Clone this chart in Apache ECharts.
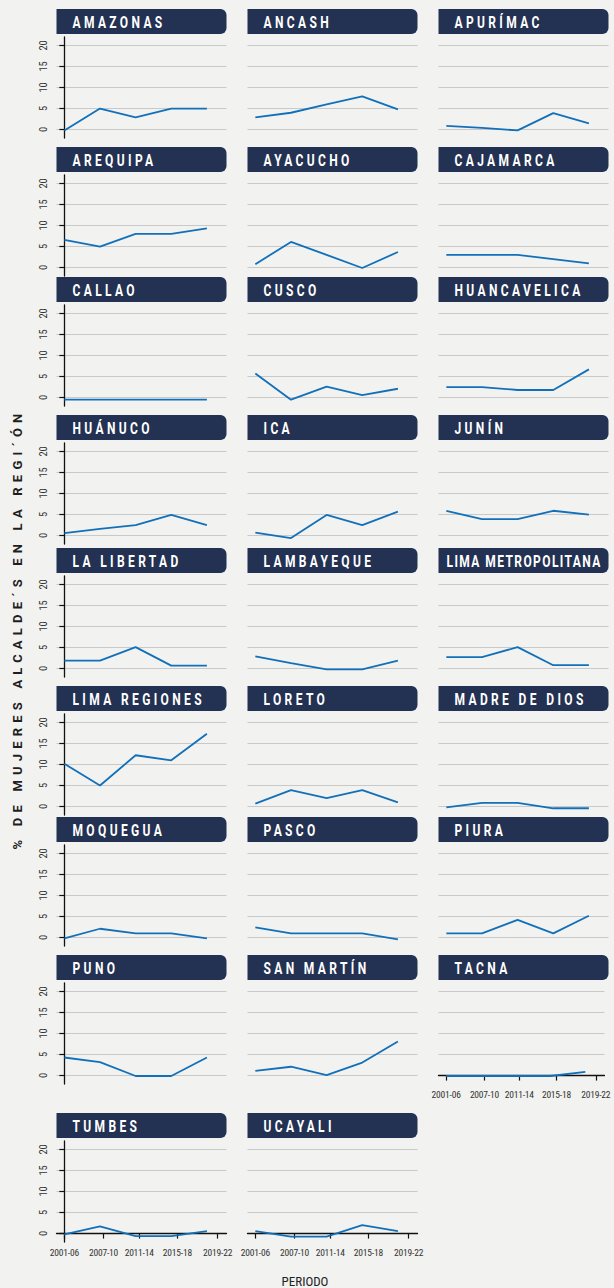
<!DOCTYPE html>
<html>
<head>
<meta charset="utf-8">
<script src="https://cdn.jsdelivr.net/npm/echarts@6/dist/echarts.min.js"></script>
<style>
html, body { margin: 0; padding: 0; background: #f2f2f0; }
#chart { width: 614px; height: 1288px; }
/* zrender has no letter spacing, so the svg text gets it from css */
#chart text[style*="hdrsp"] { letter-spacing: 4.5px; }
#chart text[style*="hdrlg"] { letter-spacing: 1.9px; }
#chart text[style*="ttlsp"] { letter-spacing: 5.2px; }
#chart text[style*="axsp"] { letter-spacing: -0.2px; }
</style>
</head>
<body>
<div id="chart"></div>
<script>
// periodos y posiciones
var periodos = ['2001-06', '2007-10', '2011-14', '2015-18', '2019-22'];
var periodoPos = [0, 1.1, 2.1, 3.17, 4.3];
var puntoPos = [0, 1, 2, 3, 4];

// % de mujeres alcaldes por region
var amazonas = [-0.2, 5, 2.9, 5, 5];
var ancash = [2.9, 4, 6, 7.9, 4.8];
var apurimac = [0.9, 0.4, -0.2, 3.9, 1.5];
var arequipa = [6.6, 5, 8, 8, 9.3];
var ayacucho = [0.8, 6.1, 3, -0.1, 3.7];
var cajamarca = [3, 3, 3, 2, 1];
var callao = [-0.5, -0.5, -0.5, -0.5, -0.5];
var cusco = [5.7, -0.5, 2.6, 0.6, 2.1];
var huancavelica = [2.5, 2.5, 1.8, 1.8, 6.7];
var huanuco = [0.6, 1.6, 2.5, 4.9, 2.5];
var ica = [0.7, -0.6, 4.9, 2.5, 5.7];
var junin = [5.9, 3.9, 3.9, 5.9, 5];
var laLibertad = [1.9, 1.9, 5.1, 0.7, 0.7];
var lambayeque = [2.9, 1.3, -0.2, -0.2, 1.9];
var limaMetropolitana = [2.7, 2.7, 5.1, 0.8, 0.8];
var limaRegiones = [10.2, 5, 12.2, 11, 17.3];
var loreto = [0.7, 3.9, 2, 3.9, 1];
var madreDeDios = [-0.2, 0.9, 0.9, -0.4, -0.4];
var moquegua = [-0.2, 2.1, 1, 1, -0.2];
var pasco = [2.4, 1, 1, 1, -0.4];
var piura = [1, 1, 4.2, 1, 5.2];
var puno = [4.3, 3.2, -0.1, -0.1, 4.3];
var sanMartin = [1.1, 2.1, 0.1, 3.1, 8.1];
var tacna = [-0.1, -0.1, -0.1, -0.1, 0.9];
var tumbes = [-0.2, 1.7, -0.6, -0.6, 0.6];
var ucayali = [0.6, -0.7, -0.7, 2, 0.6];

var regiones = ['AMAZONAS', 'ANCASH', 'APURÍMAC', 'AREQUIPA', 'AYACUCHO', 'CAJAMARCA',
  'CALLAO', 'CUSCO', 'HUANCAVELICA', 'HUÁNUCO', 'ICA', 'JUNÍN', 'LA LIBERTAD', 'LAMBAYEQUE',
  'LIMA METROPOLITANA', 'LIMA REGIONES', 'LORETO', 'MADRE DE DIOS', 'MOQUEGUA', 'PASCO',
  'PIURA', 'PUNO', 'SAN MARTÍN', 'TACNA', 'TUMBES', 'UCAYALI'];
var valores = [amazonas, ancash, apurimac, arequipa, ayacucho, cajamarca, callao, cusco,
  huancavelica, huanuco, ica, junin, laLibertad, lambayeque, limaMetropolitana, limaRegiones,
  loreto, madreDeDios, moquegua, pasco, piura, puno, sanMartin, tacna, tumbes, ucayali];
var yTicks = [0, 5, 10, 15, 20];

var chart = echarts.init(document.getElementById('chart'), null, { renderer: 'svg' });

var fuente = "Roboto, 'Noto Sans', sans-serif";
var fuenteNarrow = "'Roboto Condensed', Roboto, sans-serif";
var colLeft = [56.5, 247.5, 438.5];
var rowTop = [9, 147, 277, 415, 548, 686, 817, 955, 1113];
var panelW = 170;

var grids = [], xAxes = [], yAxes = [], series = [], graphics = [];

for (var i = 0; i < regiones.length; i++) {
  var c = i % 3, r = Math.floor(i / 3);
  var abajo = (i >= 23);
  var izq = (c === 0);
  grids.push({ left: colLeft[c], top: rowTop[r] + 28, width: panelW, height: 101 });
  xAxes.push({
    type: 'value', gridIndex: i, min: -0.22, max: 4.55, show: abajo,
    axisLine: { show: true, lineStyle: { color: '#111', width: 1.3 } },
    axisTick: { show: true, length: 5, customValues: periodoPos, lineStyle: { color: '#111', width: 1.2 } },
    axisLabel: {
      customValues: periodoPos, margin: 5, fontSize: 9.5, color: '#333', fontFamily: 'axsp, ' + fuenteNarrow,
      formatter: function (v) {
        for (var k = 0; k < periodoPos.length; k++) {
          if (Math.abs(periodoPos[k] - v) < 0.001) return periodos[k];
        }
        return '';
      }
    },
    splitLine: { show: false }
  });
  yAxes.push({
    type: 'value', gridIndex: i, min: -2, max: 22,
    axisLine: { show: izq, lineStyle: { color: '#111', width: 1.3 } },
    axisTick: { show: izq, length: 5, customValues: yTicks, lineStyle: { color: '#111', width: 1.2 } },
    axisLabel: {
      show: izq, customValues: yTicks, rotate: 90, margin: 8, fontSize: 10.5,
      color: '#333', fontFamily: 'axsp, ' + fuenteNarrow
    },
    splitLine: { show: true, lineStyle: { color: '#c9c9c9', width: 1 } }
  });
  series.push({
    type: 'line', xAxisIndex: i, yAxisIndex: i, symbol: 'none', silent: true,
    lineStyle: { color: '#1170b9', width: 1.8 },
    data: valores[i].map(function (v, k) { return [puntoPos[k], v]; })
  });
  var largo = regiones[i].length > 15;
  graphics.push({
    type: 'rect', x: colLeft[c], y: rowTop[r],
    shape: { width: panelW, height: 25, r: [0, 6, 6, 0] },
    style: { fill: '#233152' }
  });
  graphics.push({
    type: 'text', x: colLeft[c] + (largo ? 8 : 16), y: rowTop[r] + 13, scaleX: 0.75,
    style: {
      text: regiones[i], fill: '#fff', fontSize: 16, fontWeight: 'bold',
      fontFamily: (largo ? 'hdrlg, ' : 'hdrsp, ') + fuente,
      textAlign: 'left', verticalAlign: 'middle'
    }
  });
}

graphics.push({
  type: 'text', x: 17, y: 629, rotation: Math.PI / 2,
  style: {
    text: '% DE MUJERES ALCALDE´S EN LA REGI´ÓN', fill: '#1e1e1e', fontSize: 13,
    fontWeight: 'bold', fontFamily: 'ttlsp, ' + fuente, textAlign: 'center', verticalAlign: 'middle'
  }
});
graphics.push({
  type: 'text', x: 305, y: 1281,
  style: {
    text: 'PERIODO', fill: '#222', fontSize: 13, fontFamily: fuenteNarrow,
    textAlign: 'center', verticalAlign: 'middle'
  }
});

var option = {
  backgroundColor: '#f2f2f0',
  animation: false,
  grid: grids,
  xAxis: xAxes,
  yAxis: yAxes,
  series: series,
  graphic: graphics
};
chart.setOption(option);
</script>
</body>
</html>
